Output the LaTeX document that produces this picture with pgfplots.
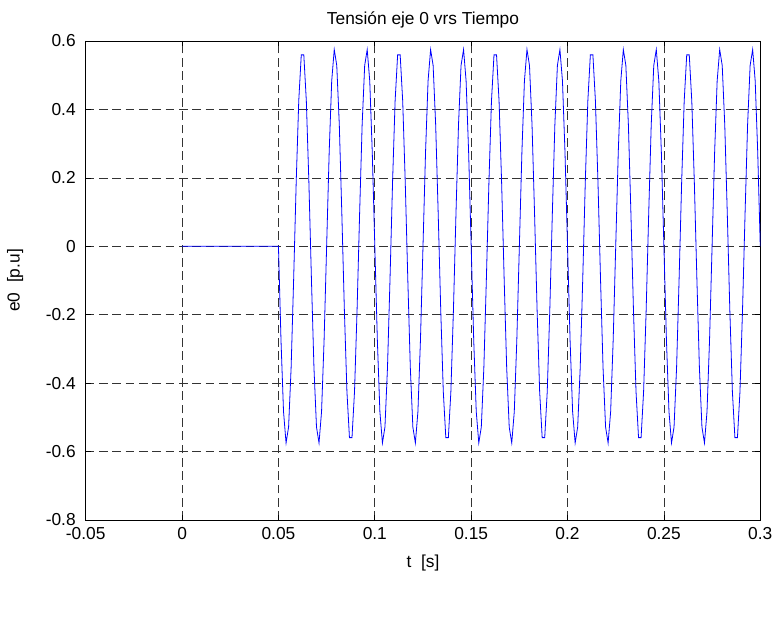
\documentclass[border=0pt]{standalone}
\usepackage{fontspec}
\setmainfont{Liberation Sans}
\usepackage{pgfplots}
\pgfplotsset{compat=1.18}
\begin{document}
\begin{tikzpicture}
\path[use as bounding box] (-64.3pt,-84pt) rectangle (519.25pt,390pt);
\begin{axis}[
  at={(0pt,0pt)}, anchor=south west,
  scale only axis, width=505.95pt, height=359.25pt,
  xmin=-0.05, xmax=0.3, ymin=-0.8, ymax=0.6,
  xtick={-0.05,0,0.05,0.1,0.15,0.2,0.25,0.3},
  xticklabels={-0.05,0,0.05,0.1,0.15,0.2,0.25,0.3},
  ytick={-0.8,-0.6,-0.4,-0.2,0,0.2,0.4,0.6},
  yticklabels={-0.8,-0.6,-0.4,-0.2,0,0.2,0.4,0.6},
  tick align=inside, major tick length=4pt,
  xtick pos=both, ytick pos=both,
  grid=major,
  major grid style={black!80, line width=0.5pt, dash pattern=on 6.5pt off 3.5pt},
  axis line style={black, line width=0.6pt},
  tick style={black, line width=0.5pt},
  every tick label/.append style={font=\fontsize{13}{15}\selectfont},
  xticklabel style={yshift=-2pt},
  yticklabel style={xshift=-4pt},
  label style={font=\fontsize{13}{15}\selectfont},
  title style={font=\fontsize{13}{15}\selectfont},
  xlabel style={yshift=-5pt},
  ylabel style={yshift=10pt},
  title={Tensión eje 0 vrs Tiempo},
  xlabel={t\ \ [s]},
  ylabel={e0\ \ [p.u]},
]
\addplot[blue, line width=0.6pt] coordinates {
(0,0)
(0.05000,0) (0.05132,-0.2746) (0.05263,-0.4831) (0.05395,-0.5750) (0.05526,-0.5284) (0.05658,-0.3544) (0.05789,-0.0950) (0.05921,0.1874) (0.06053,0.4245) (0.06184,0.5594) (0.06316,0.5594) (0.06447,0.4245) (0.06579,0.1874) (0.06711,-0.0950) (0.06842,-0.3544) (0.06974,-0.5284) (0.07105,-0.5750) (0.07237,-0.4831) (0.07368,-0.2746)
(0.07500,0) (0.07632,0.2746) (0.07763,0.4831) (0.07895,0.5750) (0.08026,0.5284) (0.08158,0.3544) (0.08289,0.0950) (0.08421,-0.1874) (0.08553,-0.4245) (0.08684,-0.5594) (0.08816,-0.5594) (0.08947,-0.4245) (0.09079,-0.1874) (0.09211,0.0950) (0.09342,0.3544) (0.09474,0.5284) (0.09605,0.5750) (0.09737,0.4831) (0.09868,0.2746)
(0.10000,0) (0.10132,-0.2746) (0.10263,-0.4831) (0.10395,-0.5750) (0.10526,-0.5284) (0.10658,-0.3544) (0.10789,-0.0950) (0.10921,0.1874) (0.11053,0.4245) (0.11184,0.5594) (0.11316,0.5594) (0.11447,0.4245) (0.11579,0.1874) (0.11711,-0.0950) (0.11842,-0.3544) (0.11974,-0.5284) (0.12105,-0.5750) (0.12237,-0.4831) (0.12368,-0.2746)
(0.12500,0) (0.12632,0.2746) (0.12763,0.4831) (0.12895,0.5750) (0.13026,0.5284) (0.13158,0.3544) (0.13289,0.0950) (0.13421,-0.1874) (0.13553,-0.4245) (0.13684,-0.5594) (0.13816,-0.5594) (0.13947,-0.4245) (0.14079,-0.1874) (0.14211,0.0950) (0.14342,0.3544) (0.14474,0.5284) (0.14605,0.5750) (0.14737,0.4831) (0.14868,0.2746)
(0.15000,0) (0.15132,-0.2746) (0.15263,-0.4831) (0.15395,-0.5750) (0.15526,-0.5284) (0.15658,-0.3544) (0.15789,-0.0950) (0.15921,0.1874) (0.16053,0.4245) (0.16184,0.5594) (0.16316,0.5594) (0.16447,0.4245) (0.16579,0.1874) (0.16711,-0.0950) (0.16842,-0.3544) (0.16974,-0.5284) (0.17105,-0.5750) (0.17237,-0.4831) (0.17368,-0.2746)
(0.17500,0) (0.17632,0.2746) (0.17763,0.4831) (0.17895,0.5750) (0.18026,0.5284) (0.18158,0.3544) (0.18289,0.0950) (0.18421,-0.1874) (0.18553,-0.4245) (0.18684,-0.5594) (0.18816,-0.5594) (0.18947,-0.4245) (0.19079,-0.1874) (0.19211,0.0950) (0.19342,0.3544) (0.19474,0.5284) (0.19605,0.5750) (0.19737,0.4831) (0.19868,0.2746)
(0.20000,0) (0.20132,-0.2746) (0.20263,-0.4831) (0.20395,-0.5750) (0.20526,-0.5284) (0.20658,-0.3544) (0.20789,-0.0950) (0.20921,0.1874) (0.21053,0.4245) (0.21184,0.5594) (0.21316,0.5594) (0.21447,0.4245) (0.21579,0.1874) (0.21711,-0.0950) (0.21842,-0.3544) (0.21974,-0.5284) (0.22105,-0.5750) (0.22237,-0.4831) (0.22368,-0.2746)
(0.22500,0) (0.22632,0.2746) (0.22763,0.4831) (0.22895,0.5750) (0.23026,0.5284) (0.23158,0.3544) (0.23289,0.0950) (0.23421,-0.1874) (0.23553,-0.4245) (0.23684,-0.5594) (0.23816,-0.5594) (0.23947,-0.4245) (0.24079,-0.1874) (0.24211,0.0950) (0.24342,0.3544) (0.24474,0.5284) (0.24605,0.5750) (0.24737,0.4831) (0.24868,0.2746)
(0.25000,0) (0.25132,-0.2746) (0.25263,-0.4831) (0.25395,-0.5750) (0.25526,-0.5284) (0.25658,-0.3544) (0.25789,-0.0950) (0.25921,0.1874) (0.26053,0.4245) (0.26184,0.5594) (0.26316,0.5594) (0.26447,0.4245) (0.26579,0.1874) (0.26711,-0.0950) (0.26842,-0.3544) (0.26974,-0.5284) (0.27105,-0.5750) (0.27237,-0.4831) (0.27368,-0.2746)
(0.27500,0) (0.27632,0.2746) (0.27763,0.4831) (0.27895,0.5750) (0.28026,0.5284) (0.28158,0.3544) (0.28289,0.0950) (0.28421,-0.1874) (0.28553,-0.4245) (0.28684,-0.5594) (0.28816,-0.5594) (0.28947,-0.4245) (0.29079,-0.1874) (0.29211,0.0950) (0.29342,0.3544) (0.29474,0.5284) (0.29605,0.5750) (0.29737,0.4831) (0.29868,0.2746)
(0.30000,0)
};
\end{axis}
\end{tikzpicture}
\end{document}
